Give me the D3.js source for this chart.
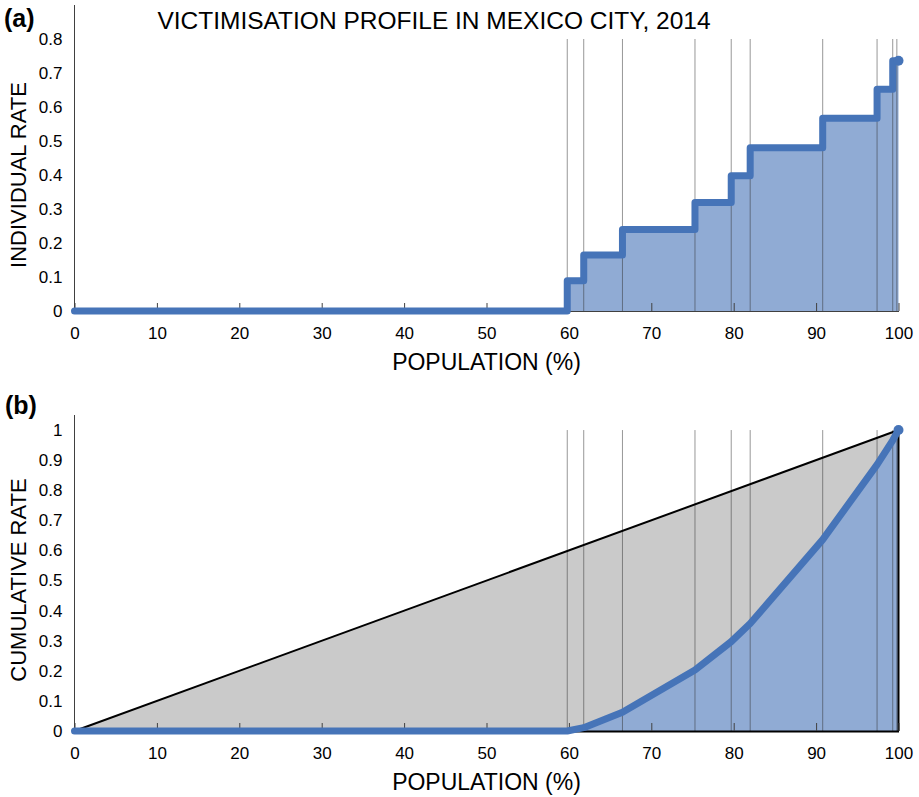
<!DOCTYPE html>
<html>
<head>
<meta charset="utf-8">
<script src="https://cdn.jsdelivr.net/npm/d3@7"></script>
<style>
  body { margin: 0; background: #fff; }
  svg text { font-family: "Liberation Sans", Arial, sans-serif; fill: #000; }
</style>
</head>
<body>
<div id="chart"></div>
<script>
// class boundaries along the population axis (%)
const bounds = [0, 59.8, 61.8, 66.5, 75.3, 79.7, 82.0, 90.8, 97.4, 99.3, 100];
// individual victimisation rate of each class (between bounds[i] and bounds[i+1])
const individualRate = [0, 0.089, 0.165, 0.240, 0.319, 0.398, 0.480, 0.567, 0.652, 0.736];
// cumulative rate at each boundary
const cumulativeRate = [0, 0, 0.011, 0.062, 0.203, 0.297, 0.357, 0.636, 0.885, 0.966, 1.0];
// vertical reference lines
const gridLines = [59.8, 61.8, 66.5, 75.3, 79.7, 82.0, 90.8, 97.4, 99.3, 99.8];
const xTicks = [0, 10, 20, 30, 40, 50, 60, 70, 80, 90, 100];
const yTicksA = [0, 0.1, 0.2, 0.3, 0.4, 0.5, 0.6, 0.7, 0.8];
const yTicksB = [0, 0.1, 0.2, 0.3, 0.4, 0.5, 0.6, 0.7, 0.8, 0.9, 1];
const equality = [[0, 0], [100, 1]];

const W = 919, H = 797;
const blue = "#4674b8", blueFill = "#90abd4", grayFill = "#cacaca";
const fmt = d3.format("~g");

const svg = d3.select("#chart").append("svg")
      .attr("width", W)
      .attr("height", H);

const x = d3.scaleLinear().domain([0, 100]).range([74.5, 898.5]);
const yA = d3.scaleLinear().domain([0, 0.9]).range([311, 5]);
const yB = d3.scaleLinear().domain([0, 1.05]).range([731, 415]);

// ---------- panel (a) ----------
const stepPts = bounds.map((b, i) => [b, individualRate[Math.min(i, individualRate.length - 1)]]);

const gA = svg.append("g");

gA.append("path")
      .datum(stepPts)
      .attr("fill", blueFill)
      .attr("d", d3.area().curve(d3.curveStepAfter)
            .x(d => x(d[0])).y0(yA(0)).y1(d => yA(d[1])));

gA.selectAll(".vline")
      .data(gridLines)
      .join("line")
      .attr("x1", d => x(d)).attr("x2", d => x(d))
      .attr("y1", yA(0.8)).attr("y2", yA(0))
      .attr("stroke", "rgba(50,50,50,0.5)")
      .attr("stroke-width", 1);

// x axis, ticks pointing into the plot
const xAxisA = gA.append("g")
      .attr("transform", "translate(0," + yA(0) + ")")
      .call(d3.axisBottom(x).tickValues(xTicks).tickSizeInner(-8).tickSizeOuter(0).tickPadding(16));
xAxisA.select(".domain").attr("stroke", "#404040");
xAxisA.selectAll(".tick line").attr("stroke", "#404040");

const yAxisA = gA.append("g")
      .attr("transform", "translate(" + x(0) + ",0)")
      .call(d3.axisLeft(yA).tickValues(yTicksA).tickFormat(fmt).tickSize(0).tickPadding(12));
yAxisA.select(".domain").attr("stroke", "#404040").attr("d", "M0," + yA(0.9) + "V" + yA(0));

gA.append("path")
      .datum(stepPts)
      .attr("fill", "none")
      .attr("stroke", blue)
      .attr("stroke-width", 7)
      .attr("stroke-linecap", "round")
      .attr("stroke-linejoin", "round")
      .attr("d", d3.line().curve(d3.curveStepAfter).x(d => x(d[0])).y(d => yA(d[1])));

gA.append("circle")
      .attr("cx", x(100)).attr("cy", yA(individualRate[individualRate.length - 1]))
      .attr("r", 5).attr("fill", blue);

// ---------- panel (b) ----------
const cumPts = bounds.map((b, i) => [b, cumulativeRate[i]]);
const gB = svg.append("g");

gB.append("path")
      .datum(equality)
      .attr("fill", grayFill)
      .attr("d", d3.area().x(d => x(d[0])).y0(yB(0)).y1(d => yB(d[1])));

gB.append("path")
      .datum(cumPts)
      .attr("fill", blueFill)
      .attr("d", d3.area().x(d => x(d[0])).y0(yB(0)).y1(d => yB(d[1])));

gB.selectAll(".vline")
      .data(gridLines)
      .join("line")
      .attr("x1", d => x(d)).attr("x2", d => x(d))
      .attr("y1", yB(1)).attr("y2", yB(0))
      .attr("stroke", "rgba(50,50,50,0.5)")
      .attr("stroke-width", 1);

gB.append("path")
      .datum(equality)
      .attr("fill", "none")
      .attr("stroke", "#000")
      .attr("stroke-width", 2)
      .attr("d", d3.line().x(d => x(d[0])).y(d => yB(d[1])));

gB.append("line")
      .attr("x1", x(100)).attr("x2", x(100))
      .attr("y1", yB(1)).attr("y2", yB(0))
      .attr("stroke", "#000").attr("stroke-width", 2);

const xAxisB = gB.append("g")
      .attr("transform", "translate(0," + yB(0) + ")")
      .call(d3.axisBottom(x).tickValues(xTicks).tickSizeInner(-8).tickSizeOuter(0).tickPadding(16));
xAxisB.select(".domain").attr("stroke", "#000").attr("stroke-width", 2);
xAxisB.selectAll(".tick line").attr("stroke", "#404040");

const yAxisB = gB.append("g")
      .attr("transform", "translate(" + x(0) + ",0)")
      .call(d3.axisLeft(yB).tickValues(yTicksB).tickFormat(fmt).tickSize(0).tickPadding(12));
yAxisB.select(".domain").attr("stroke", "#404040").attr("d", "M0," + yB(1.05) + "V" + yB(0));

gB.append("path")
      .datum(cumPts)
      .attr("fill", "none")
      .attr("stroke", blue)
      .attr("stroke-width", 7)
      .attr("stroke-linecap", "round")
      .attr("stroke-linejoin", "round")
      .attr("d", d3.line().x(d => x(d[0])).y(d => yB(d[1])));

gB.append("circle")
      .attr("cx", x(100)).attr("cy", yB(1))
      .attr("r", 5).attr("fill", blue);

// tick label fonts
svg.selectAll(".tick text").attr("font-size", 17).attr("font-family", null);

// ---------- texts ----------
svg.append("text")
      .attr("x", 434).attr("y", 29)
      .attr("text-anchor", "middle")
      .attr("font-size", 24.5)
      .text("VICTIMISATION PROFILE IN MEXICO CITY, 2014");

svg.append("text").attr("x", 4).attr("y", 27)
      .attr("font-size", 25).attr("font-weight", "bold").text("(a)");
svg.append("text").attr("x", 5).attr("y", 414)
      .attr("font-size", 25).attr("font-weight", "bold").text("(b)");

svg.append("text")
      .attr("x", x(50)).attr("y", 370)
      .attr("text-anchor", "middle").attr("font-size", 23)
      .text("POPULATION (%)");
svg.append("text")
      .attr("x", x(50)).attr("y", 790)
      .attr("text-anchor", "middle").attr("font-size", 23)
      .text("POPULATION (%)");

svg.append("text")
      .attr("transform", "translate(26,175) rotate(-90)")
      .attr("text-anchor", "middle").attr("font-size", 22)
      .text("INDIVIDUAL RATE");
svg.append("text")
      .attr("transform", "translate(26,580) rotate(-90)")
      .attr("text-anchor", "middle").attr("font-size", 22)
      .text("CUMULATIVE RATE");
</script>
</body>
</html>
